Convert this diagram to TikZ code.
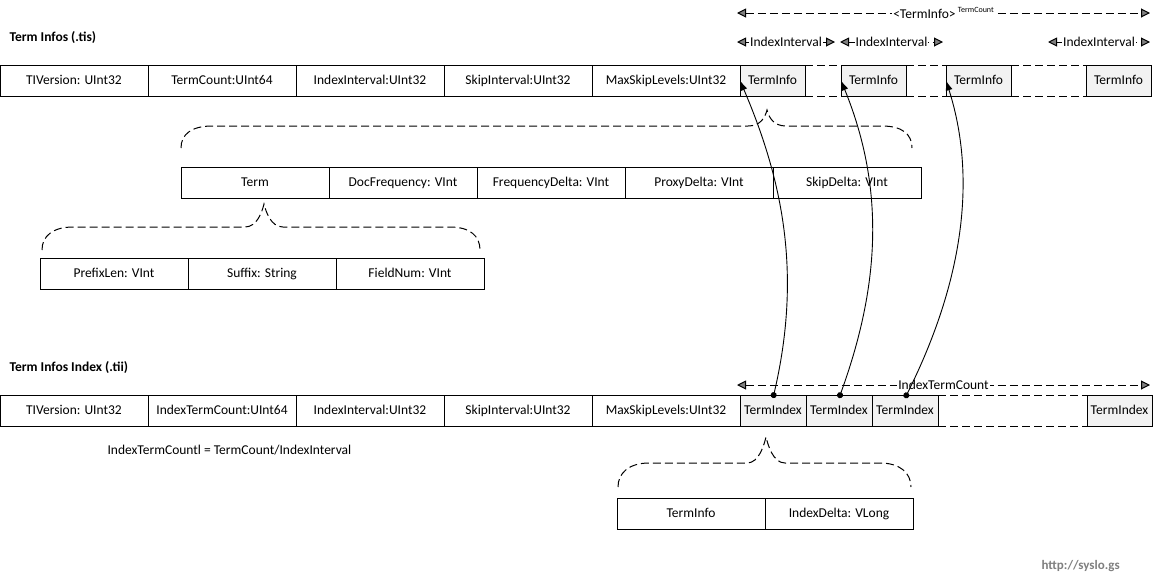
\documentclass[tikz,border=0pt]{standalone}
\usepackage{fontspec}
\setmainfont{Carlito}
\usetikzlibrary{arrows.meta,positioning}
\definecolor{CellGrey}{HTML}{F2F2F2}
\definecolor{TipGrey}{HTML}{808080}
\definecolor{WebGrey}{HTML}{7F7F7F}

\begin{document}
\begin{tikzpicture}[x=1pt,y=-1pt,
  font=\fontsize{13.5}{16}\selectfont,
  field/.style={rectangle,draw,line width=1pt,minimum width=148pt,
                minimum height=31pt,inner sep=0pt,outer sep=0pt,
                text height=2ex,text depth=.3ex},
  cell/.style={field,fill=CellGrey,minimum width=65pt},
  dashline/.style={line width=1pt,dash pattern=on 8pt off 4pt},
  span/.style={dashline,{Triangle[length=9pt,width=9pt,fill=TipGrey]}-{Triangle[length=9pt,width=9pt,fill=TipGrey]}},
  lbl/.style={fill=white,inner sep=1pt},
  ptr/.style={line width=0.9pt,{Circle[length=6pt]}-{Latex[length=10pt,width=7pt]}},
  title/.style={anchor=west,font=\fontsize{13.5}{16}\selectfont\bfseries}]
\useasboundingbox (0,0) rectangle (1153,582);

% term infos file
\node[title] (tistitle) at (6,38) {Term Infos (.tis)};
\node[field,anchor=north west] (tisver) at (0,65) {TIVersion: UInt32};
\node[field,right=0pt of tisver] (tiscount) {TermCount:UInt64};
\node[field,right=0pt of tiscount] (tisint) {IndexInterval:UInt32};
\node[field,right=0pt of tisint] (tisskip) {SkipInterval:UInt32};
\node[field,right=0pt of tisskip] (tismax) {MaxSkipLevels:UInt32};
\node[cell,right=0pt of tismax] (ti1) {TermInfo};
\node[cell,anchor=north west] (ti2) at (841,65) {TermInfo};
\node[cell,anchor=north west] (ti3) at (946,65) {TermInfo};
\node[cell,anchor=north west] (ti4) at (1086,65) {TermInfo};
\foreach \a/\b in {ti1/ti2,ti2/ti3,ti3/ti4}{
  \draw[dashline] (\a.north east) -- (\b.north west);
  \draw[dashline] (\a.south east) -- (\b.south west);
}

% spans above the term infos
\coordinate (cntl) at (737,13);
\coordinate (cntr) at (1150,13);
\draw[span] (cntl) -- node[lbl] (cntlbl) {<TermInfo>\,\raisebox{6pt}{\fontsize{8}{9}\selectfont TermCount}} (cntr);
\foreach \i/\l/\r in {1/737/835,2/840/943,3/1048/1150}{
  \coordinate (ivl\i) at (\l,42);
  \coordinate (ivr\i) at (\r,42);
  \draw[span] (ivl\i) -- node[lbl] (ivlbl\i) {IndexInterval} (ivr\i);
}

% term info entry
\draw[dashline] (181,148) .. controls (181,134) and (192,126) .. (212,126) -- (748,126)
  .. controls (760,126) and (765,118) .. (767,110)
  .. controls (769,118) and (774,126) .. (786,126) -- (882,126)
  .. controls (902,126) and (912,134) .. (912,148);
\node[field,anchor=north west] (term) at (181,167) {Term};
\node[field,right=0pt of term] (docfreq) {DocFrequency: VInt};
\node[field,right=0pt of docfreq] (freqdelta) {FrequencyDelta: VInt};
\node[field,right=0pt of freqdelta] (proxdelta) {ProxyDelta: VInt};
\node[field,right=0pt of proxdelta] (skipdelta) {SkipDelta: VInt};

% term
\draw[dashline] (42,250) .. controls (42,236) and (53,227) .. (73,227) -- (245,227)
  .. controls (257,227) and (262,212) .. (264,204)
  .. controls (266,212) and (271,227) .. (283,227) -- (450,227)
  .. controls (470,227) and (480,236) .. (480,250);
\node[field,anchor=north west] (prefix) at (40,258) {PrefixLen: VInt};
\node[field,right=0pt of prefix] (suffix) {Suffix: String};
\node[field,right=0pt of suffix] (fieldnum) {FieldNum: VInt};

% term infos index file
\node[title] (tiititle) at (6,368) {Term Infos Index (.tii)};
\node[field,anchor=north west] (tiiver) at (0,395) {TIVersion: UInt32};
\node[field,right=0pt of tiiver] (tiicount) {IndexTermCount:UInt64};
\node[field,right=0pt of tiicount] (tiiint) {IndexInterval:UInt32};
\node[field,right=0pt of tiiint] (tiiskip) {SkipInterval:UInt32};
\node[field,right=0pt of tiiskip] (tiimax) {MaxSkipLevels:UInt32};
\node[cell,minimum width=66pt,right=0pt of tiimax] (idx1) {TermIndex};
\node[cell,minimum width=66pt,right=0pt of idx1] (idx2) {TermIndex};
\node[cell,minimum width=66pt,right=0pt of idx2] (idx3) {TermIndex};
\node[cell,minimum width=65pt,anchor=north west] (idx4) at (1087,395) {TermIndex};
\draw[dashline] (idx3.north east) -- (idx4.north west);
\draw[dashline] (idx3.south east) -- (idx4.south west);
\coordinate (idxl) at (737,385);
\coordinate (idxr) at (1150,385);
\draw[span] (idxl) -- node[lbl] (idxlbl) {IndexTermCount} (idxr);
\node[anchor=west] (formula) at (104,450) {IndexTermCountl = TermCount/IndexInterval};

% pointers into the term infos
\draw[ptr] ([yshift=-3pt]idx1.north) .. controls +(28,-120) and +(45,105) .. (ti1.west);
\draw[ptr] ([yshift=-3pt]idx2.north) .. controls +(40,-110) and +(45,110) .. (ti2.west);
\draw[ptr] ([yshift=-3pt]idx3.north) .. controls +(50,-100) and +(35,110) .. (ti3.west);

% term index entry
\draw[dashline] (618,487) .. controls (618,473) and (629,463) .. (649,463) -- (747,463)
  .. controls (759,463) and (764,445) .. (766,437)
  .. controls (768,445) and (773,463) .. (785,463) -- (880,463)
  .. controls (900,463) and (911,473) .. (911,487);
\node[field,anchor=north west] (entryinfo) at (617,498) {TermInfo};
\node[field,right=0pt of entryinfo] (entrydelta) {IndexDelta: VLong};

\node[anchor=west,text=WebGrey,font=\fontsize{13}{15}\selectfont\bfseries] (web) at (1038,566) {http://syslo.gs};
\end{tikzpicture}
\end{document}
